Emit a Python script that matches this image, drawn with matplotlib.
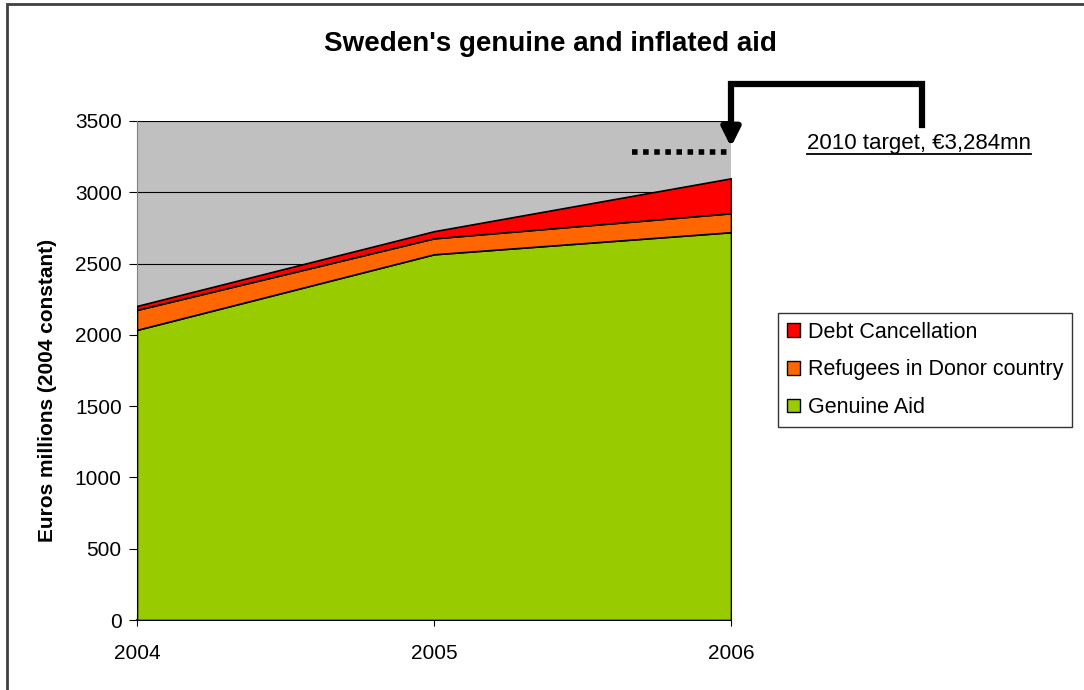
import matplotlib.pyplot as plt
from matplotlib.patches import Rectangle, Patch
from matplotlib.lines import Line2D

# data
years = ['2004', '2005', '2006']
genuine_aid = [2035, 2565, 2720]
refugees = [140, 112, 133]
debt = [28, 50, 245]
target_2010 = 3284

plt.rcParams['font.family'] = ['Liberation Sans', 'DejaVu Sans']

fig = plt.figure(figsize=(10.84, 6.9), dpi=100)
ax = fig.add_axes([137 / 1084, 1 - 620 / 690, 594 / 1084, 499 / 690])

x = list(range(len(years)))
ax.set_facecolor('#C0C0C0')
ax.stackplot(x, genuine_aid, refugees, debt,
             colors=['#99CC00', '#FF6600', '#FF0000'],
             edgecolor='black', linewidth=1.2, zorder=3)

ax.set_xlim(0, 2)
ax.set_ylim(0, 3500)
ax.set_yticks(range(0, 3501, 500))
ax.set_xticks(x)
ax.set_xticklabels(years)
ax.yaxis.grid(True, color='black', linewidth=0.8, zorder=1)
ax.set_axisbelow(True)
for s in ['top', 'right']:
    ax.spines[s].set_visible(False)
ax.spines['left'].set_color('#808080')
ax.spines['bottom'].set_linewidth(1.2)
ax.tick_params(axis='y', direction='out', length=6, labelsize=15, pad=5)
ax.tick_params(axis='x', direction='inout', length=8, labelsize=15, pad=13)
ax.set_ylabel('Euros millions (2004 constant)', fontsize=15, fontweight='bold')
ax.yaxis.set_label_coords(-0.134, 0.461)

# target dotted line
ax.plot([1.665, 2], [target_2010, target_2010], color='black',
        linestyle=(0, (1, 1)), linewidth=4, zorder=5, clip_on=False)

# bent arrow from label to 2006 target
fig.add_artist(Line2D([922 / 1084, 922 / 1084, 731 / 1084, 731 / 1084],
                      [1 - 125 / 690, 1 - 84 / 690, 1 - 84 / 690, 1 - 128 / 690],
                      color='black', linewidth=4.5, solid_joinstyle='miter',
                      transform=fig.transFigure))
ax.annotate('', xy=(731 / 1084, 1 - 147 / 690), xycoords='figure fraction',
            xytext=(731 / 1084, 1 - 122 / 690), textcoords='figure fraction',
            arrowprops=dict(arrowstyle='-|>,head_length=1.1,head_width=0.55',
                            color='black', lw=4.5, shrinkA=0, shrinkB=0))

target_txt = fig.text(919 / 1084, 1 - 143 / 690, '2010 target, €3,284mn',
                      ha='center', va='center', fontsize=16)

fig.text(550 / 1084, 1 - 44 / 690, "Sweden's genuine and inflated aid",
         ha='center', va='center', fontsize=20, fontweight='bold')

handles = [Patch(facecolor=c, edgecolor='black', linewidth=1) for c in
           ['#FF0000', '#FF6600', '#99CC00']]
leg = fig.legend(handles, ['Debt Cancellation', 'Refugees in Donor country', 'Genuine Aid'],
                 loc='upper left', bbox_to_anchor=(778 / 1084, 1 - 313 / 690),
                 fontsize=15.5, frameon=True, fancybox=False, edgecolor='black',
                 handlelength=0.6, handleheight=0.6, handletextpad=0.4,
                 borderpad=0.4, labelspacing=0.78, borderaxespad=0)
leg.get_frame().set_linewidth(1)

# underline the target label
fig.canvas.draw()
bb = target_txt.get_window_extent().transformed(fig.transFigure.inverted())
fig.add_artist(Line2D([bb.x0, bb.x1], [1 - 154 / 690, 1 - 154 / 690],
                      color='black', linewidth=1.3, transform=fig.transFigure))

# outer border (left and top visible)
fig.add_artist(Rectangle((7 / 1084, -0.1), 1.2, 1 - 4 / 690 + 0.1, fill=False,
                         edgecolor='#404040', linewidth=2,
                         transform=fig.transFigure))

fig.savefig('out.png', dpi=100)
